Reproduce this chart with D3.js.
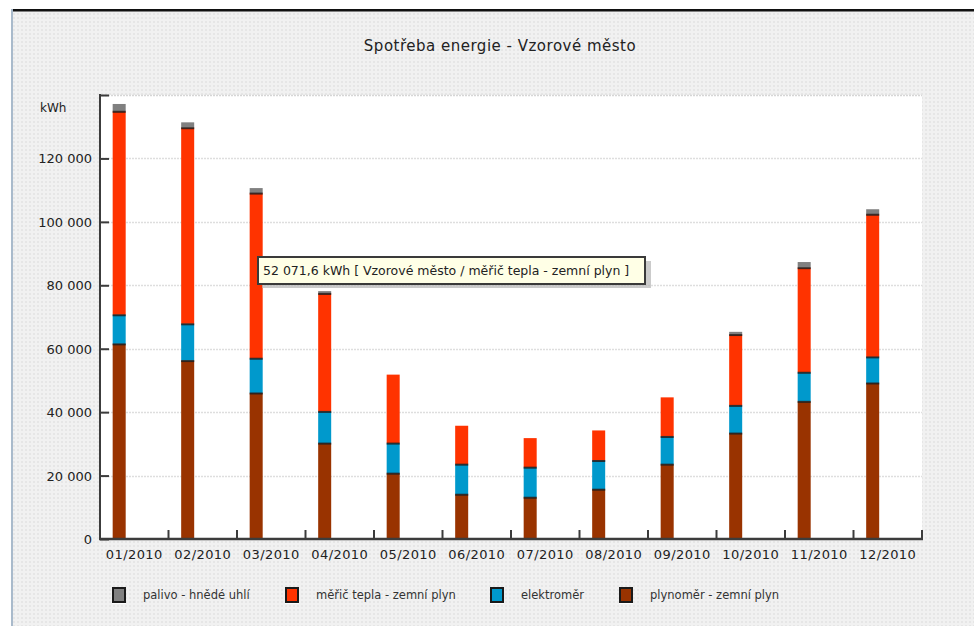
<!DOCTYPE html>
<html>
<head>
<meta charset="utf-8">
<script src="https://cdn.jsdelivr.net/npm/d3@7"></script>
<style>
html,body{margin:0;padding:0;background:#fff;}
svg{display:block;}
text{font-family:"DejaVu Sans",sans-serif;fill:#222;}
</style>
</head>
<body>
<svg id="chart" width="974" height="626"></svg>
<script>
const title = "Spotřeba energie - Vzorové město";
const unitLabel = "kWh";
const months = ["01/2010","02/2010","03/2010","04/2010","05/2010","06/2010","07/2010","08/2010","09/2010","10/2010","11/2010","12/2010"];
const plynomer   = [61530, 56260, 46050, 30240, 20760, 14120, 13170, 15700, 23600, 33400, 43400, 49200];
const elektromer = [9170, 11590, 10950, 9990, 9480, 9480, 9480, 9050, 8730, 8730, 9170, 8220];
const mericTepla = [64160, 61830, 52071.6, 37200, 21590, 12110, 9160, 9480, 12330, 22340, 32980, 44980];
const palivo     = [2310, 1700, 1580, 730, 0, 0, 0, 0, 0, 850, 1780, 1580];
const seriesNames = ["plynoměr - zemní plyn", "elektroměr", "měřič tepla - zemní plyn", "palivo - hnědé uhlí"];
const seriesColors = ["#993300", "#0099cc", "#ff3300", "#808080"];
const yTicks = [0, 20000, 40000, 60000, 80000, 100000, 120000, 140000];
const tooltipSeries = 2, tooltipMonth = 2, tooltipPlace = "Vzorové město";

const locale = d3.formatLocale({decimal: ",", thousands: " ", grouping: [3], currency: ["", ""]});
const fmtInt = locale.format(",.0f");
const fmt1 = locale.format(",.1f");

const seriesValues = [plynomer, elektromer, mericTepla, palivo];
const table = months.map((m, i) => {
  const row = {month: m};
  seriesNames.forEach((s, k) => row[s] = seriesValues[k][i]);
  return row;
});
const stacked = d3.stack().keys(seriesNames)(table);

const svg = d3.select("#chart");
const W = 974, H = 626;
const margin = {left: 100, right: 52, top: 95, bottom: 87};

// background panel
const defs = svg.append("defs");
const pat = defs.append("pattern").attr("id", "bgpat").attr("width", 4).attr("height", 4).attr("patternUnits", "userSpaceOnUse");
pat.append("rect").attr("width", 4).attr("height", 4).attr("fill", "#f1f1f1");
pat.append("rect").attr("x", 1).attr("y", 1).attr("width", 2).attr("height", 2).attr("fill", "#e6e6e6");

svg.append("rect").attr("x", 0).attr("y", 0).attr("width", W).attr("height", H).attr("fill", "#fff");
svg.append("rect").attr("x", 13).attr("y", 11).attr("width", W - 13).attr("height", H - 11).attr("fill", "url(#bgpat)");
svg.append("rect").attr("x", 11).attr("y", 9).attr("width", W - 11).attr("height", 2.5).attr("fill", "#111");
svg.append("rect").attr("x", 11).attr("y", 9).attr("width", 2).attr("height", H - 9).attr("fill", "#a9bacb");

const x = d3.scaleBand().domain(months).range([margin.left, W - margin.right]).paddingInner(0).paddingOuter(0);
const y = d3.scaleLinear().domain([0, 140000]).range([H - margin.bottom, margin.top]);

// plot area
svg.append("rect").attr("x", x.range()[0]).attr("y", y(140000))
  .attr("width", x.range()[1] - x.range()[0]).attr("height", y(0) - y(140000)).attr("fill", "#fff");

// title
svg.append("text").attr("x", 500).attr("y", 51).attr("text-anchor", "middle")
  .style("font-size", "15px").style("letter-spacing", "0.5px").text(title);

// gridlines
svg.append("g").selectAll("line").data(yTicks.filter(d => d > 0)).join("line")
  .attr("x1", x.range()[0] + 2).attr("x2", x.range()[1])
  .attr("y1", d => Math.round(y(d)) + 0.5).attr("y2", d => Math.round(y(d)) + 0.5)
  .attr("stroke", d => d === 140000 ? "#d6d6d6" : "#dedede").attr("stroke-width", 1.3)
  .attr("stroke-dasharray", "2,1");

// bars
const barOff = x.bandwidth() * 0.185, barW = x.bandwidth() * 0.19;
const gBars = svg.append("g");
stacked.forEach((layer, k) => {
  gBars.append("g").selectAll("rect").data(layer).join("rect")
    .attr("x", d => x(d.data.month) + barOff)
    .attr("width", barW)
    .attr("y", d => y(d[1]))
    .attr("height", d => Math.max(0, y(d[0]) - y(d[1])))
    .attr("fill", seriesColors[k]);
});
// dark separators at tops of segments that have something above them
stacked.forEach((layer, k) => {
  if (k === stacked.length - 1) return;
  gBars.append("g").selectAll("rect").data(layer.filter((d, i) => {
      let above = 0; for (let j = k + 1; j < stacked.length; j++) above += stacked[j][i][1] - stacked[j][i][0];
      return above > 0 && d[1] - d[0] > 0;
    })).join("rect")
    .attr("x", d => x(d.data.month) + barOff)
    .attr("width", barW)
    .attr("y", d => y(d[1]) - 0.5)
    .attr("height", 2)
    .attr("fill", "#1e1e1e").attr("opacity", 0.85);
});

// axes
const axisColor = "#3c3c3c";
const yAxis = svg.append("g").attr("transform", `translate(${x.range()[0]},0)`)
  .call(d3.axisRight(y).tickValues(yTicks).tickSize(9).tickFormat(""));
yAxis.select(".domain").remove();
yAxis.selectAll("line").attr("stroke", axisColor).attr("stroke-width", 2);
svg.append("line").attr("x1", x.range()[0]).attr("x2", x.range()[0])
  .attr("y1", y(140000) - 1).attr("y2", y(0) + 1).attr("stroke", axisColor).attr("stroke-width", 2);

svg.append("g").selectAll("text").data(yTicks.filter(d => d < 140000)).join("text")
  .attr("x", x.range()[0] - 8).attr("y", d => y(d) + 5)
  .attr("text-anchor", "end").style("font-size", "13px").text(d => fmtInt(d));
svg.append("text").attr("x", 40).attr("y", y(140000) + 17).style("font-size", "12px").text(unitLabel);

// x axis
const bounds = months.slice(1).map(m => x(m)).concat([x.range()[1]]);
svg.append("g").selectAll("line").data(bounds).join("line")
  .attr("x1", d => d).attr("x2", d => d).attr("y1", y(0)).attr("y2", y(0) - 9)
  .attr("stroke", axisColor).attr("stroke-width", 2);
svg.append("line").attr("x1", x.range()[0] - 1).attr("x2", x.range()[1] + 1)
  .attr("y1", y(0)).attr("y2", y(0)).attr("stroke", axisColor).attr("stroke-width", 2.5);
svg.append("g").selectAll("text").data(months).join("text")
  .attr("x", d => x(d) + x.bandwidth() / 2).attr("y", y(0) + 20)
  .attr("text-anchor", "middle").style("font-size", "13px").style("letter-spacing", "0.4px").text(d => d);

// legend
const legendOrder = [3, 2, 1, 0];
const legendX = [112, 285, 490, 619];
const lg = svg.append("g");
legendOrder.forEach((k, i) => {
  const g = lg.append("g").attr("transform", `translate(${legendX[i]},587)`);
  g.append("rect").attr("x", 0).attr("y", 15).attr("width", 14).attr("height", 2).attr("fill", "#fff");
  g.append("rect").attr("x", 1).attr("y", 1).attr("width", 12).attr("height", 14)
    .attr("fill", seriesColors[k]).attr("stroke", "#1a1a1a").attr("stroke-width", 2);
  g.append("text").attr("x", 31).attr("y", 12).style("font-size", "11.5px").style("fill", "#333").text(seriesNames[k]);
});

// tooltip
const ttVal = seriesValues[tooltipSeries][tooltipMonth];
const ttText = `${fmt1(ttVal)} ${unitLabel} [ ${tooltipPlace} / ${seriesNames[tooltipSeries]} ]`;
const tt = svg.append("g").attr("transform", "translate(258,257)");
tt.append("rect").attr("x", 4).attr("y", 4).attr("width", 389).attr("height", 27).attr("fill", "#b5b5b5").attr("opacity", 0.7);
tt.append("rect").attr("x", 0).attr("y", 0).attr("width", 387).attr("height", 27)
  .attr("fill", "#ffffe6").attr("stroke", "#3a3a3a").attr("stroke-width", 2);
tt.append("text").attr("x", 5).attr("y", 18).style("font-size", "12.5px").text(ttText);
</script>
</body>
</html>
